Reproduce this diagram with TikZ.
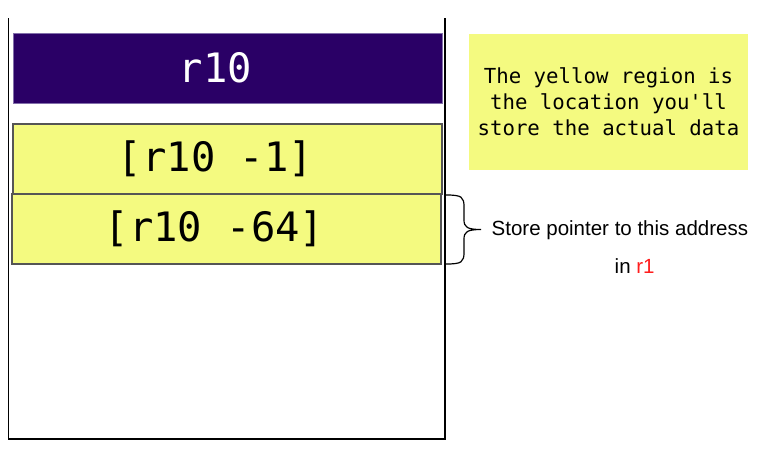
\documentclass[tikz,border=0pt]{standalone}
\usepackage{fontspec}
\setmainfont{Liberation Sans}
\newfontfamily\monof{DejaVu Sans Mono}
\definecolor{regpurple}{RGB}{42,0,102}
\definecolor{regedge}{RGB}{130,110,170}
\definecolor{memyellow}{RGB}{244,250,128}
\definecolor{memedge}{RGB}{85,85,85}
\definecolor{ptrred}{RGB}{255,30,30}
\tikzset{
  regbox/.style={draw=regedge, line width=0.8pt, fill=regpurple, text=white, font=\monof\fontsize{40.5}{46}\selectfont},
  membox/.style={draw=memedge, line width=1.2pt, fill=memyellow, text=black, font=\monof\fontsize{40.5}{46}\selectfont},
  notebox/.style={fill=memyellow, font=\monof\fontsize{20.7}{26}\selectfont, align=center},
  frameline/.style={line width=1.6pt, black},
  labeltext/.style={font=\fontsize{20.5}{24}\selectfont, text=black}
}
\newcommand{\leftnudge}{\kern-24pt}
\begin{document}
\begin{tikzpicture}[x=1pt,y=-1pt]
\useasboundingbox (0,0) rectangle (767,453);
% frame
\coordinate (ftl) at (8.5,18);
\coordinate (fbl) at (8.5,439);
\coordinate (fbr) at (445,439);
\coordinate (ftr) at (445,18);
\draw[frameline] (ftl) -- (fbl) -- (fbr) -- (ftr);
% boxes
\node[regbox, minimum width=429pt, minimum height=70pt, inner sep=0pt] (r10) at (227.5,68) {\leftnudge r10};
\node[membox, minimum width=429pt, minimum height=70pt, inner sep=0pt] (m1) at (227.5,159) {\leftnudge[r10 -1]};
\node[membox, minimum width=429pt, minimum height=70pt, inner sep=0pt] (m64) at (226.5,229) {\leftnudge[r10 -64]};
% note
\node[notebox, minimum width=279pt, minimum height=136pt, inner sep=0pt] (note) at (608.5,101.5) {The yellow region is\\the location you'll\\store the actual data};
% brace
\coordinate (bt) at (446,195);
\coordinate (bb) at (446,264);
\coordinate (btip) at (481,229.5);
\draw[line width=1.2pt] (bt) .. controls (462,195) and (464,197) .. (464,207)
  -- (464,220) .. controls (464,227) and (467,229.5) .. (btip)
  .. controls (467,229.5) and (464,232) .. (464,239)
  -- (464,252) .. controls (464,262) and (462,264) .. (bb);
% labels
\node[labeltext, anchor=west, inner sep=0pt] (lab1) at (491.5,230) {Store pointer to this address};
\node[labeltext, anchor=west, inner sep=0pt] (lab2) at (614.5,266) {in \textcolor{ptrred}{r1}};
\end{tikzpicture}
\end{document}
